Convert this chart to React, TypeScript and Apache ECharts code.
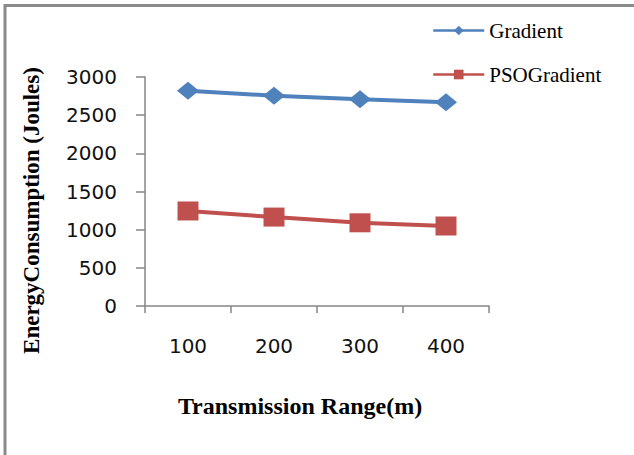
import React, { useEffect, useRef } from "react";
import * as echarts from "echarts";

const categories = ["100", "200", "300", "400"];
const gradientValues = [2820, 2755, 2710, 2670];
const psoGradientValues = [1245, 1165, 1090, 1048];
const seriesNames = ["Gradient", "PSOGradient"];
const xTitle = "Transmission Range(m)";
const yTitle = "EnergyConsumption (Joules)";

export default function App() {
  const ref = useRef<HTMLDivElement>(null);
  useEffect(() => {
    if (!ref.current) return;
    const chart = echarts.init(ref.current, undefined, { renderer: "svg" });
    const axisColor = "#868686";
    chart.setOption({
      animation: false,
      backgroundColor: "#ffffff",
      graphic: [
        {
          type: "rect",
          shape: { x: 5, y: 5.5, width: 700, height: 500 },
          style: { fill: "none", stroke: "#8a8a8a", lineWidth: 3 },
          silent: true,
        },
      ],
      legend: {
        orient: "vertical",
        left: 427,
        top: 15,
        itemWidth: 51,
        itemHeight: 12,
        itemGap: 23,
        data: seriesNames,
        lineStyle: { width: 2.5 },
        textStyle: {
          fontFamily: "Liberation Serif",
          fontSize: 21,
          color: "#000",
        },
      },
      grid: { left: 145, right: 145, top: 77, bottom: 149 },
      xAxis: {
        type: "category",
        data: categories,
        boundaryGap: true,
        name: xTitle,
        nameLocation: "middle",
        nameGap: 88,
        nameTextStyle: {
          fontFamily: "Liberation Serif",
          fontWeight: "bold",
          fontSize: 24,
          color: "#000",
          padding: [0, 34, 0, 0],
        },
        axisLine: { show: true, lineStyle: { color: axisColor, width: 1.5 } },
        axisTick: { show: true, length: 7, alignWithLabel: false, lineStyle: { color: axisColor, width: 1.5 } },
        axisLabel: {
          margin: 30,
          fontFamily: "DejaVu Sans",
          fontSize: 20,
          color: "#111",
        },
        splitLine: { show: false },
      },
      yAxis: {
        type: "value",
        min: 0,
        max: 3000,
        interval: 500,
        name: yTitle,
        nameLocation: "middle",
        nameRotate: 90,
        nameGap: 102,
        nameTextStyle: {
          fontFamily: "Liberation Serif",
          fontWeight: "bold",
          fontSize: 23,
          color: "#000",
          padding: [0, 38, 0, 0],
        },
        axisLine: { show: true, lineStyle: { color: axisColor, width: 1.5 } },
        axisTick: { show: true, length: 9, lineStyle: { color: axisColor, width: 1.5 } },
        axisLabel: {
          margin: 28,
          fontFamily: "DejaVu Sans",
          fontSize: 20,
          color: "#111",
          formatter: (v: number) => String(v),
        },
        splitLine: { show: false },
      },
      series: [
        {
          name: seriesNames[0],
          type: "line",
          data: gradientValues,
          symbol: "diamond",
          symbolSize: [22, 18],
          color: "#4F81BD",
          lineStyle: { width: 4, color: "#4F81BD" },
          itemStyle: { color: "#4F81BD" },
        },
        {
          name: seriesNames[1],
          type: "line",
          data: psoGradientValues,
          symbol: "rect",
          symbolSize: [21, 19],
          color: "#C0504D",
          lineStyle: { width: 4, color: "#C0504D" },
          itemStyle: { color: "#C0504D" },
        },
      ],
    });
    return () => chart.dispose();
  }, []);
  return (
    <div
      ref={ref}
      style={{ position: "absolute", left: 0, top: 0, width: 634, height: 455 }}
    />
  );
}
